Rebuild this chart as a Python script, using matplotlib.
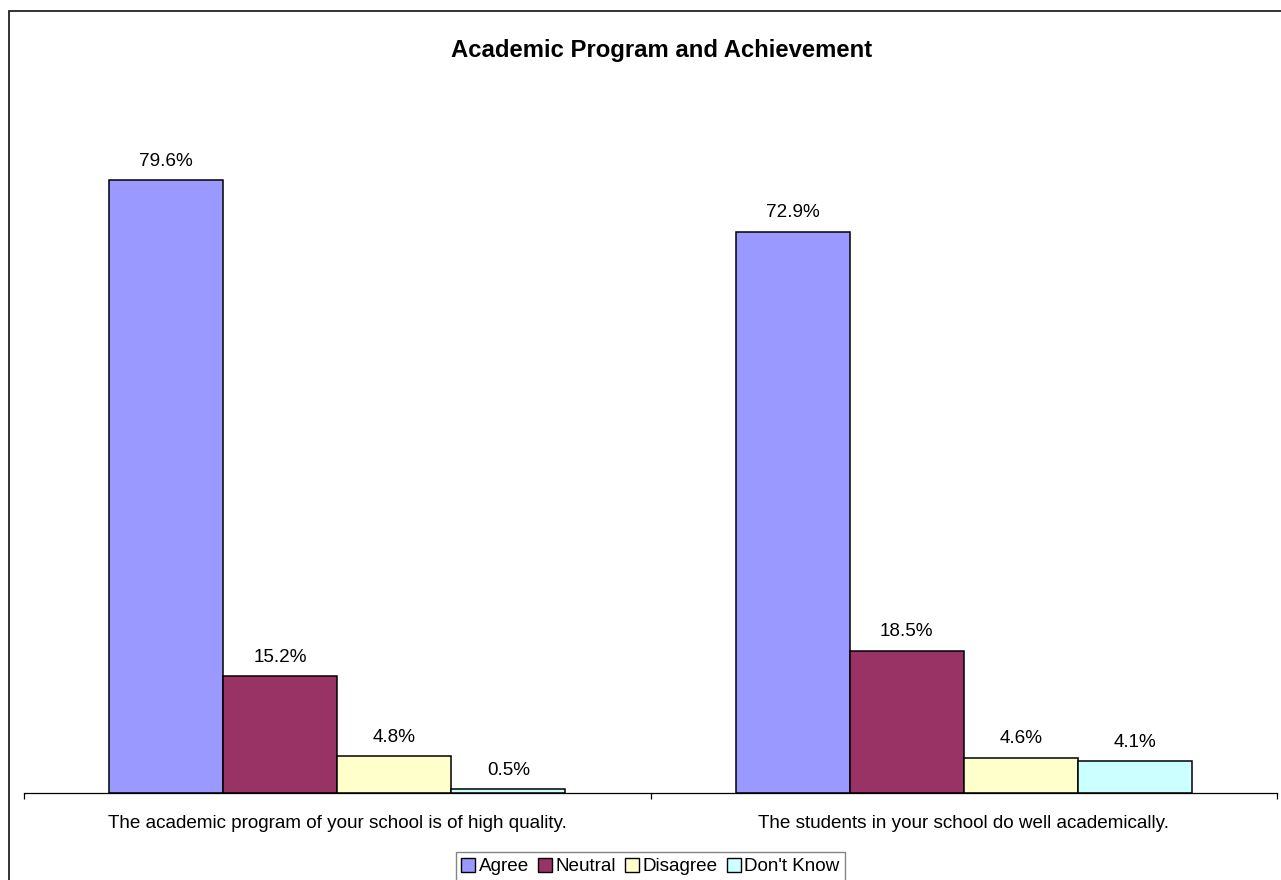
import matplotlib
matplotlib.use("Agg")
import matplotlib.pyplot as plt
import numpy as np
from matplotlib.patches import Rectangle, Patch

plt.rcParams['font.family'] = ['Liberation Sans', 'DejaVu Sans']

# survey results, percent of respondents
questions = ['The academic program of your school is of high quality.',
             'The students in your school do well academically.']
responses = ['Agree', 'Neutral', 'Disagree', "Don't Know"]
agree = [79.6, 72.9]
neutral = [15.2, 18.5]
disagree = [4.8, 4.6]
dont_know = [0.5, 4.1]
colors = ['#9999ff', '#993366', '#ffffcc', '#ccffff']

fig = plt.figure(figsize=(12.81, 8.80), dpi=100)
W, H = 1281, 880
ax = fig.add_axes([24 / W, 87 / H, 1253 / W, 693 / H])

series = [agree, neutral, disagree, dont_know]
x = np.arange(len(questions))
bw = 0.182
for i, vals in enumerate(series):
    pos = x + (i - 1.5) * bw
    bars = ax.bar(pos, vals, width=bw, color=colors[i], edgecolor='black',
                  linewidth=1.1, label=responses[i], zorder=2)
    for b, v in zip(bars, vals):
        ax.annotate('%.1f%%' % v, (b.get_x() + b.get_width() / 2, v),
                    xytext=(0, 13.5), textcoords='offset points',
                    ha='center', va='center', fontsize=13.6)

ax.set_xlim(-0.5, 1.5)
ax.set_ylim(0, 90)
for s in ['top', 'right', 'left']:
    ax.spines[s].set_visible(False)
ax.spines['bottom'].set_linewidth(0.9)
ax.set_yticks([])
ax.set_xticks(x)
ax.set_xticklabels(questions, fontsize=13.6)
ax.tick_params(axis='x', which='major', length=0, pad=15.5)
ax.set_xticks([-0.5, 0.5, 1.5], minor=True)
ax.tick_params(axis='x', which='minor', length=4.5, width=0.9, direction='out')

fig.text(661.5 / W, 1 - 51 / H, 'Academic Program and Achievement',
         ha='center', va='center', fontsize=17.2, fontweight='bold')

# outer chart frame
fig.patches.append(Rectangle((9 / W, -0.05), 1.1, 1 - 11 / H + 0.05,
                             transform=fig.transFigure, fill=False,
                             edgecolor='#222222', linewidth=1.3))

handles = [Patch(facecolor=c, edgecolor='black', linewidth=1.0) for c in colors]
leg = fig.legend(handles, responses, loc='upper center',
                 bbox_to_anchor=(650.5 / W, 1 - 852 / H), ncol=4,
                 fontsize=13.6, frameon=True, fancybox=False,
                 handlelength=0.75, handleheight=0.75, handletextpad=0.2,
                 columnspacing=0.45, borderpad=0.3, borderaxespad=0)
leg.get_frame().set_edgecolor('#666666')
leg.get_frame().set_linewidth(1.0)

fig.savefig('out.png', dpi=100)
